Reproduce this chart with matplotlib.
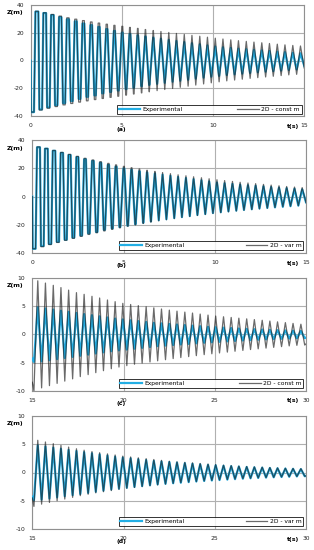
import matplotlib
matplotlib.use("Agg")
import matplotlib.pyplot as plt

plt.rcParams["axes.unicode_minus"] = False

# ---- panels (a),(b): 0-15 s ----
t_trough_ab = [0.10, 0.55, 0.97, 1.40, 1.83, 2.25, 2.68, 3.10, 3.53, 3.95, 4.38, 4.80,
               5.23, 5.65, 6.08, 6.50, 6.93, 7.35, 7.78, 8.20, 8.63, 9.05, 9.48, 9.90,
               10.33, 10.75, 11.18, 11.60, 12.03, 12.45, 12.88, 13.30, 13.73, 14.15, 14.58]
t_peak_ab = [0.34, 0.77, 1.19, 1.62, 2.04, 2.47, 2.89, 3.32, 3.74, 4.17, 4.59, 5.02,
             5.44, 5.87, 6.29, 6.72, 7.14, 7.57, 7.99, 8.42, 8.84, 9.27, 9.69, 10.12,
             10.54, 10.97, 11.39, 11.82, 12.24, 12.67, 13.09, 13.52, 13.94, 14.37, 14.79]
flat_ab = [0.08, 0.075, 0.07, 0.065, 0.06, 0.055, 0.05, 0.045, 0.04, 0.035, 0.03,
           0.025, 0.02, 0.015, 0.01, 0.005]

exp_trough_ab = [-37, -35, -33.5, -32, -30.5, -29, -27.5, -26, -25, -23.5, -22.5, -21.5,
                 -20.5, -19.5, -18.5, -17.5, -16.7, -16, -15.2, -14.5, -13.8, -13, -12.3,
                 -11.6, -11, -10.4, -9.9, -9.4, -8.9, -8.4, -8, -7.6, -7.2, -6.8, -6.4]
exp_peak_ab = [35, 34, 32.5, 31, 29.5, 28, 26.5, 25.3, 24, 22.5, 21.2, 20, 19, 18, 17.2,
               16.4, 15.6, 14.8, 14, 13.2, 12.4, 11.6, 10.8, 10, 9.5, 9, 8.5, 8.1, 7.7,
               7.3, 6.8, 6.4, 6, 5.6, 5.2]
const_trough_a = [-37, -35.5, -34.2, -33, -31.8, -30.8, -29.8, -28.9, -28, -27.2, -26.4,
                  -25.6, -24.8, -24, -23.2, -22.4, -21.6, -20.8, -20, -19.2, -18.4, -17.6,
                  -16.8, -16, -15.3, -14.6, -14, -13.4, -12.8, -12.3, -11.8, -11.3, -10.8,
                  -10.3, -9.9]
const_peak_a = [35.3, 34.2, 33, 31.8, 30.6, 29.6, 28.6, 27.6, 26.8, 26, 25.2, 24.5, 23.7,
                23, 22.2, 21.5, 20.8, 20.1, 19.4, 18.7, 18, 17.4, 16.7, 16, 15.4, 14.8,
                14.2, 13.7, 13.2, 12.7, 12.2, 11.7, 11.2, 10.8, 10.4]
var_trough_b = [-37, -35.5, -34, -32.5, -31, -29.6, -28.2, -26.8, -25.6, -24.3, -23.2,
                -22.1, -21, -20, -19, -18.1, -17.2, -16.4, -15.6, -14.8, -14.1, -13.4,
                -12.7, -12, -11.4, -10.8, -10.2, -9.7, -9.2, -8.7, -8.2, -7.7, -7.2, -6.8,
                -6.4]
var_peak_b = [35.3, 34.2, 32.8, 31.4, 30, 28.6, 27.2, 26, 24.8, 23.6, 22.5, 21.5, 20.5,
              19.6, 18.7, 17.9, 17.1, 16.3, 15.5, 14.8, 14.1, 13.4, 12.7, 12, 11.4, 10.8,
              10.2, 9.7, 9.2, 8.7, 8.2, 7.7, 7.2, 6.8, 6.4]
start_ab = (0.0, 0.0)
end_ab = {"exp": -4.0, "const": -5.5, "var": -4.2}

# ---- panels (c),(d): 15-30 s ----
t_trough_cd = [15.09, 15.51, 15.94, 16.36, 16.78, 17.21, 17.63, 18.06, 18.48, 18.90,
               19.33, 19.75, 20.18, 20.60, 21.02, 21.45, 21.87, 22.30, 22.72, 23.14,
               23.57, 23.99, 24.42, 24.84, 25.26, 25.69, 26.11, 26.54, 26.96, 27.38,
               27.81, 28.23, 28.66, 29.08, 29.50, 29.93]
t_peak_cd = [15.30, 15.72, 16.15, 16.57, 16.99, 17.42, 17.84, 18.27, 18.69, 19.12, 19.54,
             19.96, 20.39, 20.81, 21.24, 21.66, 22.08, 22.51, 22.93, 23.36, 23.78, 24.20,
             24.63, 25.05, 25.48, 25.90, 26.32, 26.75, 27.17, 27.60, 28.02, 28.44, 28.87,
             29.29, 29.72]

exp_trough_cd = [-4.9, -4.8, -4.6, -4.4, -4.2, -4.0, -3.8, -3.6, -3.4, -3.2, -3.0, -2.85,
                 -2.7, -2.55, -2.4, -2.25, -2.1, -2.0, -1.9, -1.8, -1.7, -1.6, -1.5, -1.42,
                 -1.34, -1.26, -1.18, -1.1, -1.03, -0.96, -0.9, -0.85, -0.8, -0.75, -0.7,
                 -0.66]
exp_peak_cd = [4.8, 4.6, 4.4, 4.2, 4.0, 3.8, 3.6, 3.4, 3.2, 3.0, 2.8, 2.65, 2.5, 2.35, 2.2,
               2.05, 1.95, 1.85, 1.75, 1.65, 1.55, 1.45, 1.35, 1.28, 1.2, 1.12, 1.05, 0.98,
               0.92, 0.86, 0.8, 0.75, 0.7, 0.65, 0.6]
const_trough_c = [-10.0, -9.5, -9.1, -8.7, -8.3, -7.9, -7.5, -7.15, -6.8, -6.45, -6.1, -5.8,
                  -5.55, -5.3, -5.1, -4.9, -4.7, -4.5, -4.3, -4.12, -3.95, -3.78, -3.6,
                  -3.45, -3.3, -3.15, -3.0, -2.85, -2.7, -2.57, -2.44, -2.31, -2.18, -2.05,
                  -1.95, -1.9]
const_peak_c = [9.5, 9.1, 8.7, 8.3, 7.85, 7.4, 7.1, 6.75, 6.45, 6.1, 5.8, 5.5, 5.3, 5.1,
                4.9, 4.7, 4.5, 4.3, 4.12, 3.95, 3.78, 3.6, 3.42, 3.25, 3.12, 3.0, 2.87,
                2.75, 2.62, 2.5, 2.36, 2.22, 2.08, 1.94, 1.8]
var_trough_d = [-6.0, -5.6, -5.3, -5.0, -4.7, -4.4, -4.1, -3.85, -3.6, -3.4, -3.2, -3.0,
                -2.8, -2.65, -2.5, -2.35, -2.2, -2.05, -1.92, -1.8, -1.7, -1.6, -1.5, -1.4,
                -1.32, -1.24, -1.16, -1.08, -1.02, -0.96, -0.9, -0.85, -0.8, -0.75, -0.7,
                -0.66]
var_peak_d = [5.7, 5.4, 5.1, 4.8, 4.5, 4.2, 3.95, 3.7, 3.5, 3.3, 3.1, 2.9, 2.75, 2.6, 2.45,
              2.3, 2.15, 2.0, 1.9, 1.8, 1.7, 1.6, 1.5, 1.4, 1.3, 1.22, 1.14, 1.06, 1.0,
              0.94, 0.88, 0.82, 0.76, 0.72, 0.68]
start_cd = {"exp": -4.3, "const": -8.5, "var": -4.5}
end_cd = {"exp": -0.6, "const": -1.7, "var": -0.6}

CYAN = "#22aee4"
DARK = "#1a1a1a"


def trace(t0, v0, t_tr, v_tr, t_pk, v_pk, t1, v1, flat=()):
    ts, vs = [t0], [v0]

    def add(t, v, w):
        if w > 0:
            ts.extend([t - w, t + w])
            vs.extend([v, v])
        else:
            ts.append(t)
            vs.append(v)

    for k in range(len(t_pk)):
        w = flat[k] if k < len(flat) else 0
        add(t_tr[k], v_tr[k], w)
        add(t_pk[k], v_pk[k], w)
    if len(t_tr) > len(t_pk):
        add(t_tr[-1], v_tr[-1], 0)
    ts.append(t1)
    vs.append(v1)
    return ts, vs


W, H = 314, 550
fig = plt.figure(figsize=(W / 100, H / 100), dpi=100)


def box(l, t, r, b):
    return [l / W, 1 - b / H, (r - l) / W, (b - t) / H]


panels = [
    dict(rect=box(30.7, 4.7, 304.3, 116.3), xlim=(0, 15), ylim=(-40, 40),
         yt=[-40, -20, 0, 20, 40], xt=[0, 5, 10, 15], lab="(a)", sim="2D - const m"),
    dict(rect=box(32.3, 140.3, 306, 253), xlim=(0, 15), ylim=(-40, 40),
         yt=[-40, -20, 0, 20, 40], xt=[0, 5, 10, 15], lab="(b)", sim="2D - var m"),
    dict(rect=box(32.3, 278, 306, 390.7), xlim=(15, 30), ylim=(-10, 10),
         yt=[-10, -5, 0, 5, 10], xt=[15, 20, 25, 30], lab="(c)", sim="2D - const m"),
    dict(rect=box(32.3, 416, 306, 529), xlim=(15, 30), ylim=(-10, 10),
         yt=[-10, -5, 0, 5, 10], xt=[15, 20, 25, 30], lab="(d)", sim="2D - var m"),
]

series = [
    (trace(*start_ab, t_trough_ab, exp_trough_ab, t_peak_ab, exp_peak_ab, 15.0, end_ab["exp"], flat_ab),
     trace(*start_ab, t_trough_ab, const_trough_a, t_peak_ab, const_peak_a, 15.0, end_ab["const"], flat_ab)),
    (trace(*start_ab, t_trough_ab, exp_trough_ab, t_peak_ab, exp_peak_ab, 15.0, end_ab["exp"], flat_ab),
     trace(*start_ab, t_trough_ab, var_trough_b, t_peak_ab, var_peak_b, 15.0, end_ab["var"], flat_ab)),
    (trace(15.0, start_cd["exp"], t_trough_cd, exp_trough_cd, t_peak_cd, exp_peak_cd, 30.0, end_cd["exp"]),
     trace(15.0, start_cd["const"], t_trough_cd, const_trough_c, t_peak_cd, const_peak_c, 30.0, end_cd["const"])),
    (trace(15.0, start_cd["exp"], t_trough_cd, exp_trough_cd, t_peak_cd, exp_peak_cd, 30.0, end_cd["exp"]),
     trace(15.0, start_cd["var"], t_trough_cd, var_trough_d, t_peak_cd, var_peak_d, 30.0, end_cd["var"])),
]

for p, (exp, sim) in zip(panels, series):
    ax = fig.add_axes(p["rect"])
    l1, = ax.plot(exp[0], exp[1], color=CYAN, lw=1.6, zorder=3, label="Experimental",
                  solid_joinstyle="round")
    l2, = ax.plot(sim[0], sim[1], color=DARK, lw=0.9, alpha=0.65, zorder=4,
                  label=p["sim"], solid_joinstyle="round")
    ax.set_xlim(*p["xlim"])
    ax.set_ylim(*p["ylim"])
    ax.set_xticks(p["xt"])
    ax.set_yticks(p["yt"])
    ax.grid(True, color="#b0b0b0", lw=0.8, zorder=0)
    ax.tick_params(length=0, labelsize=4.3, pad=5, colors="#222222")
    for s in ax.spines.values():
        s.set_color("#909090")
        s.set_linewidth(0.8)
    leg = ax.legend(handles=[l1, l2], loc="lower left", ncol=2, mode="expand",
                    bbox_to_anchor=(0.315, 0.025, 0.675, 0.08), fontsize=4.3,
                    frameon=True, fancybox=False, handlelength=3.6, borderpad=0.3,
                    handletextpad=0.4, borderaxespad=0)
    leg.get_frame().set_edgecolor("black")
    leg.get_frame().set_linewidth(0.7)
    leg.set_zorder(6)

    x0, y0, w, h = p["rect"]
    top_px = (1 - y0 - h) * H
    bot_px = (1 - y0) * H
    fig.text(7 / W, 1 - (top_px + 8) / H, "Z(m)", fontsize=4.5, fontweight="bold",
             ha="left", va="center")
    fig.text(293 / W, 1 - (bot_px + 10) / H, "t(s)", fontsize=4.5, fontweight="bold",
             ha="center", va="center")
    fig.text(121 / W, 1 - (bot_px + 13) / H, p["lab"], fontsize=4.5, fontweight="bold",
             ha="center", va="center")

fig.savefig("out.png", dpi=100)
